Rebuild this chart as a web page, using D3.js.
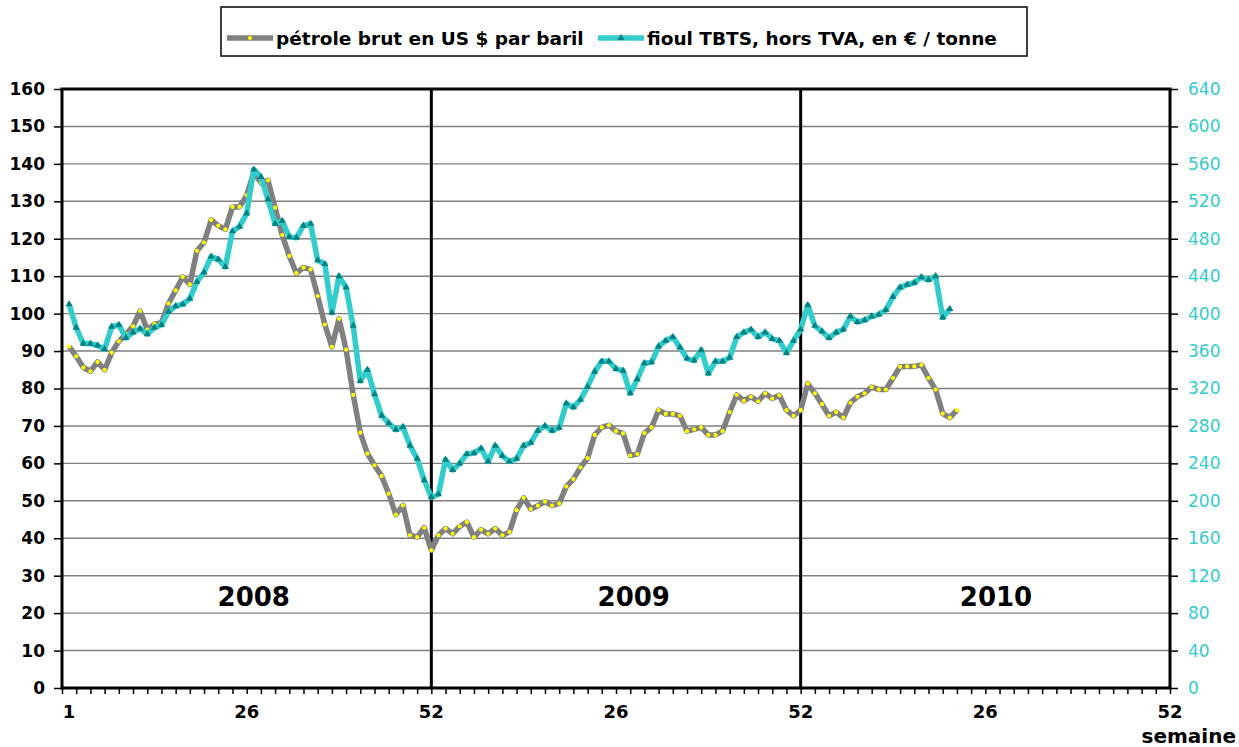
<!DOCTYPE html>
<html>
<head>
<meta charset="utf-8">
<script src="https://cdn.jsdelivr.net/npm/d3@7"></script>
<style>
  body { margin: 0; background: #fff; }
  text { font-family: "DejaVu Sans", Verdana, sans-serif; }
</style>
</head>
<body>
<div id="chart_area"></div>
<script>
// weekly prices, week 1 of 2008 onward
var crudeOil = [
  91.2, 88.6, 85.6, 84.6, 87.1, 85.0, 89.6, 92.6, 94.5, 96.6,
  100.7, 95.7, 97.2, 97.6, 102.7, 106.2, 109.8, 107.8, 116.8, 119.0,
  125.0, 123.5, 122.5, 128.5, 128.5, 131.6, 137.7, 135.0, 135.6, 128.3,
  121.0, 115.4, 110.8, 112.3, 111.8, 104.7, 97.1, 91.1, 98.6, 90.4,
  78.3, 68.2, 62.6, 59.5, 56.6, 51.9, 46.3, 48.8, 40.8, 40.3,
  42.8, 36.8, 40.8, 42.6, 41.2, 43.2, 44.3, 40.3, 42.3, 41.2,
  42.6, 40.8, 41.7, 47.5, 50.8, 47.8, 48.7, 49.8, 48.7, 49.3,
  53.8, 55.8, 58.9, 61.4, 67.6, 69.6, 70.2, 68.6, 68.0, 62.1,
  62.5, 68.1, 69.6, 74.2, 73.2, 73.2, 72.7, 68.6, 69.1, 69.6,
  67.6, 67.6, 68.6, 73.7, 78.3, 76.7, 77.8, 76.6, 78.7, 77.3,
  78.2, 74.2, 72.7, 74.2, 81.3, 78.7, 75.8, 72.7, 73.7, 72.2,
  76.2, 77.8, 78.7, 80.4, 79.7, 79.7, 82.8, 85.8, 85.9, 85.9,
  86.3, 82.8, 79.7, 73.3, 72.2, 74.2
];
var fuelOil = [
  410, 385, 368, 368, 366, 362, 386, 388, 374, 380,
  384, 378, 385, 388, 402, 408, 410, 416, 434, 444,
  461, 458, 450, 488, 493, 507, 554, 546, 522, 496,
  499, 482, 481, 494, 496, 457, 453, 401, 440, 428,
  387, 328, 340, 314, 291, 283, 276, 279, 259, 245,
  222, 204, 207, 244, 233, 240, 250, 251, 256, 242,
  259, 248, 242, 245, 259, 262, 275, 280, 275, 278,
  304, 300, 308, 322, 338, 349, 349, 341, 339, 315,
  330, 347, 348, 365, 371, 375, 364, 352, 350, 361,
  336, 349, 349, 353, 375, 380, 383, 375, 380, 373,
  371, 358, 371, 383, 409, 387, 381, 374, 380, 383,
  397, 391, 393, 397, 399, 404, 418, 428, 431, 433,
  439, 436, 440, 396, 405
];
var years = ["2008", "2009", "2010"];
var weekTicks = [1, 26, 52, 78, 104, 130, 156];
var weekTickLabels = ["1", "26", "52", "26", "52", "26", "52"];
var leftTicks = d3.range(0, 161, 10);
var rightTicks = d3.range(0, 641, 40);
var seriesNames = ["pétrole brut en US $ par baril", "fioul TBTS, hors TVA, en € / tonne"];

var greyCol = "#808080", tealCol = "#33cccc", markCol = "#008080";

// frame and canvas
var margin = {top: 89, right: 69, bottom: 59, left: 62};
var frame_width = 1239, frame_height = 747;
var canvas_width = frame_width - margin.left - margin.right;
var canvas_height = frame_height - margin.top - margin.bottom;

var frame = d3.select("#chart_area").append("svg")
    .attr("width", frame_width)
    .attr("height", frame_height);
frame.append("rect").attr("width", frame_width).attr("height", frame_height).attr("fill", "#fff");

var canvas = frame.append("g")
    .attr("transform", "translate(" + margin.left + "," + margin.top + ")");

// scales
var xScale = d3.scaleLinear().domain([0, 156]).range([0, canvas_width]);
var yScale = d3.scaleLinear().domain([0, 160]).range([canvas_height, 0]);
var yScale2 = d3.scaleLinear().domain([0, 640]).range([canvas_height, 0]);

// gridlines
canvas.append("g").selectAll("line")
    .data(leftTicks.filter(function(d) { return d > 0 && d < 160; }))
    .enter().append("line")
    .attr("x1", 0).attr("x2", canvas_width)
    .attr("y1", function(d) { return yScale(d); })
    .attr("y2", function(d) { return yScale(d); })
    .attr("stroke", greyCol).attr("stroke-width", 1.4);

// year separators
canvas.append("g").selectAll("line")
    .data([52, 104])
    .enter().append("line")
    .attr("x1", function(d) { return xScale(d); })
    .attr("x2", function(d) { return xScale(d); })
    .attr("y1", 0).attr("y2", canvas_height)
    .attr("stroke", "#000").attr("stroke-width", 3);

// year labels
var yearPos = [27, 80.5, 131.5];
canvas.append("g").selectAll("text")
    .data(years)
    .enter().append("text")
    .attr("x", function(d, i) { return xScale(yearPos[i]); })
    .attr("y", yScale(22))
    .attr("text-anchor", "middle")
    .attr("font-size", 26).attr("font-weight", "bold")
    .text(function(d) { return d; });

// left axis
var yAxis = d3.axisLeft(yScale).tickValues(leftTicks).tickSize(8).tickPadding(9);
var gl = canvas.append("g").call(yAxis);
gl.select(".domain").remove();
gl.selectAll(".tick line").attr("stroke", "#000").attr("stroke-width", 1.5);
gl.selectAll(".tick text").attr("font-size", 17).attr("font-weight", "bold")
    .attr("fill", "#000").style("font-family", "DejaVu Sans");

// right axis
var yAxis2 = d3.axisRight(yScale2).tickValues(rightTicks).tickSize(8).tickPadding(10);
var gr = canvas.append("g").attr("transform", "translate(" + canvas_width + ",0)").call(yAxis2);
gr.select(".domain").remove();
gr.selectAll(".tick line").attr("stroke", "#000").attr("stroke-width", 1.5);
gr.selectAll(".tick text").attr("font-size", 17).attr("fill", tealCol)
    .style("font-family", "DejaVu Sans");

// bottom axis: minor ticks every 2 weeks, labels at half years
var xAxis = d3.axisBottom(xScale).tickValues(d3.range(0, 157, 2)).tickSize(6).tickFormat("");
var gb = canvas.append("g").attr("transform", "translate(0," + canvas_height + ")").call(xAxis);
gb.select(".domain").remove();
gb.selectAll(".tick line").attr("stroke", "#000").attr("stroke-width", 1.5);

canvas.append("g").selectAll("text")
    .data(weekTicks)
    .enter().append("text")
    .attr("x", function(d) { return xScale(d); })
    .attr("y", canvas_height + 30)
    .attr("text-anchor", "middle")
    .attr("font-size", 18).attr("font-weight", "bold")
    .text(function(d, i) { return weekTickLabels[i]; });

canvas.append("text")
    .attr("x", frame_width - margin.left - 3)
    .attr("y", canvas_height + 55)
    .attr("text-anchor", "end")
    .attr("font-size", 20).attr("font-weight", "bold")
    .text("semaine");

// plot frame
canvas.append("rect")
    .attr("width", canvas_width).attr("height", canvas_height)
    .attr("fill", "none").attr("stroke", "#000").attr("stroke-width", 3);

// lines
var crudeLine = d3.line()
    .x(function(d, i) { return xScale(i + 1); })
    .y(function(d) { return yScale(d); });
var fuelLine = d3.line()
    .x(function(d, i) { return xScale(i + 1); })
    .y(function(d) { return yScale2(d); });

canvas.append("path").datum(crudeOil)
    .attr("d", crudeLine)
    .attr("fill", "none").attr("stroke", greyCol).attr("stroke-width", 5.5)
    .attr("stroke-linejoin", "round");
canvas.append("g").selectAll("circle")
    .data(crudeOil)
    .enter().append("circle")
    .attr("cx", function(d, i) { return xScale(i + 1); })
    .attr("cy", function(d) { return yScale(d); })
    .attr("r", 2.1).attr("fill", "#ffff00");

canvas.append("path").datum(fuelOil)
    .attr("d", fuelLine)
    .attr("fill", "none").attr("stroke", tealCol).attr("stroke-width", 5.5)
    .attr("stroke-linejoin", "round");
var tri = d3.symbol().type(d3.symbolTriangle).size(22);
canvas.append("g").selectAll("path")
    .data(fuelOil)
    .enter().append("path")
    .attr("d", tri)
    .attr("transform", function(d, i) { return "translate(" + xScale(i + 1) + "," + yScale2(d) + ")"; })
    .attr("fill", markCol);

// legend
var legend = frame.append("g");
legend.append("rect")
    .attr("x", 221).attr("y", 7).attr("width", 806).attr("height", 49)
    .attr("fill", "#fff").attr("stroke", "#000").attr("stroke-width", 1.5);
var legX = [227, 598];
var legCol = [greyCol, tealCol];
seriesNames.forEach(function(name, i) {
  var g = legend.append("g").attr("transform", "translate(" + legX[i] + ",38)");
  g.append("line").attr("x1", 0).attr("x2", 46).attr("y1", 0).attr("y2", 0)
      .attr("stroke", legCol[i]).attr("stroke-width", 5.5);
  if (i === 0) {
    g.append("circle").attr("cx", 23).attr("cy", 0).attr("r", 2.1).attr("fill", "#ffff00");
  } else {
    g.append("path").attr("d", tri).attr("transform", "translate(23,0)").attr("fill", markCol);
  }
  g.append("text").attr("x", 49).attr("y", 6.5)
      .attr("font-size", 18.5).attr("font-weight", "bold")
      .text(name);
});
</script>
</body>
</html>
